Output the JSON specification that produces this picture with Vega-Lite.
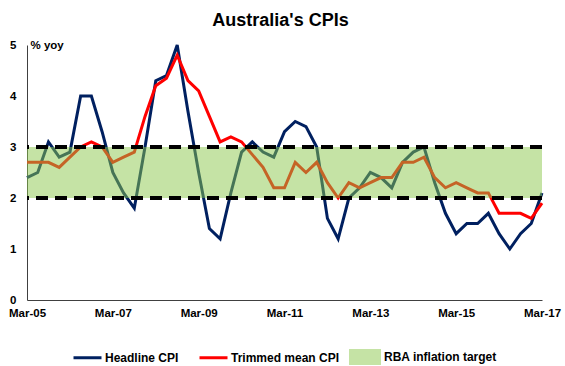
{
  "$schema": "https://vega.github.io/schema/vega-lite/v6.json",
  "width": 515,
  "height": 255,
  "autosize": {"type": "none"},
  "padding": {"left": 27, "top": 45, "right": 23, "bottom": 66},
  "background": "white",
  "title": {
    "text": "Australia's CPIs",
    "fontSize": 18,
    "fontWeight": "bold",
    "font": "Liberation Sans",
    "color": "black",
    "anchor": "middle",
    "frame": "group",
    "baseline": "alphabetic",
    "offset": -5,
    "dx": -4
  },
  "datasets": {
    "cpi": [
      {"quarter": "Mar-05", "headline": 2.4, "trimmed": 2.7},
      {"quarter": "Jun-05", "headline": 2.5, "trimmed": 2.7},
      {"quarter": "Sep-05", "headline": 3.1, "trimmed": 2.7},
      {"quarter": "Dec-05", "headline": 2.8, "trimmed": 2.6},
      {"quarter": "Mar-06", "headline": 2.9, "trimmed": 2.8},
      {"quarter": "Jun-06", "headline": 4.0, "trimmed": 3.0},
      {"quarter": "Sep-06", "headline": 4.0, "trimmed": 3.1},
      {"quarter": "Dec-06", "headline": 3.3, "trimmed": 3.0},
      {"quarter": "Mar-07", "headline": 2.5, "trimmed": 2.7},
      {"quarter": "Jun-07", "headline": 2.1, "trimmed": 2.8},
      {"quarter": "Sep-07", "headline": 1.8, "trimmed": 2.9},
      {"quarter": "Dec-07", "headline": 3.0, "trimmed": 3.6},
      {"quarter": "Mar-08", "headline": 4.3, "trimmed": 4.2},
      {"quarter": "Jun-08", "headline": 4.4, "trimmed": 4.35},
      {"quarter": "Sep-08", "headline": 5.0, "trimmed": 4.8},
      {"quarter": "Dec-08", "headline": 3.7, "trimmed": 4.3},
      {"quarter": "Mar-09", "headline": 2.5, "trimmed": 4.1},
      {"quarter": "Jun-09", "headline": 1.4, "trimmed": 3.6},
      {"quarter": "Sep-09", "headline": 1.2, "trimmed": 3.1},
      {"quarter": "Dec-09", "headline": 2.1, "trimmed": 3.2},
      {"quarter": "Mar-10", "headline": 2.9, "trimmed": 3.1},
      {"quarter": "Jun-10", "headline": 3.1, "trimmed": 2.85},
      {"quarter": "Sep-10", "headline": 2.9, "trimmed": 2.6},
      {"quarter": "Dec-10", "headline": 2.8, "trimmed": 2.2},
      {"quarter": "Mar-11", "headline": 3.3, "trimmed": 2.2},
      {"quarter": "Jun-11", "headline": 3.5, "trimmed": 2.7},
      {"quarter": "Sep-11", "headline": 3.4, "trimmed": 2.5},
      {"quarter": "Dec-11", "headline": 3.0, "trimmed": 2.7},
      {"quarter": "Mar-12", "headline": 1.6, "trimmed": 2.3},
      {"quarter": "Jun-12", "headline": 1.2, "trimmed": 2.0},
      {"quarter": "Sep-12", "headline": 2.0, "trimmed": 2.3},
      {"quarter": "Dec-12", "headline": 2.2, "trimmed": 2.2},
      {"quarter": "Mar-13", "headline": 2.5, "trimmed": 2.3},
      {"quarter": "Jun-13", "headline": 2.4, "trimmed": 2.4},
      {"quarter": "Sep-13", "headline": 2.2, "trimmed": 2.4},
      {"quarter": "Dec-13", "headline": 2.7, "trimmed": 2.7},
      {"quarter": "Mar-14", "headline": 2.9, "trimmed": 2.7},
      {"quarter": "Jun-14", "headline": 3.0, "trimmed": 2.8},
      {"quarter": "Sep-14", "headline": 2.3, "trimmed": 2.4},
      {"quarter": "Dec-14", "headline": 1.7, "trimmed": 2.2},
      {"quarter": "Mar-15", "headline": 1.3, "trimmed": 2.3},
      {"quarter": "Jun-15", "headline": 1.5, "trimmed": 2.2},
      {"quarter": "Sep-15", "headline": 1.5, "trimmed": 2.1},
      {"quarter": "Dec-15", "headline": 1.7, "trimmed": 2.1},
      {"quarter": "Mar-16", "headline": 1.3, "trimmed": 1.7},
      {"quarter": "Jun-16", "headline": 1.0, "trimmed": 1.7},
      {"quarter": "Sep-16", "headline": 1.3, "trimmed": 1.7},
      {"quarter": "Dec-16", "headline": 1.5, "trimmed": 1.6},
      {"quarter": "Mar-17", "headline": 2.1, "trimmed": 1.9}
    ]
  },
  "data": {"name": "cpi"},
  "layer": [
    {
      "mark": {"type": "line", "strokeWidth": 3, "strokeJoin": "miter"},
      "encoding": {
        "x": {
          "field": "quarter",
          "type": "ordinal",
          "sort": null,
          "title": null,
          "scale": {"type": "point", "padding": 0},
          "axis": {
            "values": ["Mar-05", "Mar-07", "Mar-09", "Mar-11", "Mar-13", "Mar-15", "Mar-17"],
            "labelAngle": 0,
            "labelFlush": false,
            "labelOverlap": false,
            "ticks": false,
            "tickSize": 0,
            "labelPadding": 7,
            "domainColor": "#404040",
            "domainWidth": 1,
            "grid": false
          }
        },
        "y": {
          "field": "headline",
          "type": "quantitative",
          "title": "% yoy",
          "scale": {"domain": [0, 5], "nice": false, "zero": true}
        },
        "stroke": {
          "datum": "Headline CPI",
          "type": "nominal",
          "scale": {"domain": ["Headline CPI", "Trimmed mean CPI"], "range": ["#002060", "#ff0000"]},
          "legend": {
            "orient": "none",
            "legendX": 45,
            "legendY": 297,
            "direction": "horizontal",
            "title": null,
            "symbolType": "stroke",
            "symbolSize": 784,
            "symbolStrokeWidth": 3,
            "labelOffset": 2,
            "columnPadding": 14,
            "padding": 0
          }
        }
      }
    },
    {
      "mark": {"type": "line", "strokeWidth": 3, "strokeJoin": "miter"},
      "encoding": {
        "x": {"field": "quarter", "type": "ordinal", "sort": null, "title": null},
        "y": {"field": "trimmed", "type": "quantitative", "title": "% yoy"},
        "stroke": {"datum": "Trimmed mean CPI", "type": "nominal"}
      }
    },
    {
      "mark": {"type": "area", "opacity": 0.5},
      "encoding": {
        "x": {"field": "quarter", "type": "ordinal", "sort": null, "title": null},
        "y": {"datum": 2, "type": "quantitative", "title": "% yoy"},
        "y2": {"datum": 3},
        "fill": {
          "datum": "RBA inflation target",
          "type": "nominal",
          "scale": {"domain": ["RBA inflation target"], "range": ["#8bc84b"]},
          "legend": {
            "orient": "none",
            "legendX": 322,
            "legendY": 296,
            "direction": "horizontal",
            "title": null,
            "symbolType": "M-1,-0.5H1V0.5H-1Z",
            "symbolSize": 1024,
            "symbolOpacity": 0.5,
            "symbolStrokeWidth": 0,
            "labelOffset": 3,
            "padding": 0
          }
        }
      }
    },
    {
      "mark": {"type": "rule", "color": "black", "strokeWidth": 2.5, "strokeDash": [12, 7]},
      "encoding": {
        "y": {"datum": 2, "type": "quantitative", "title": "% yoy"}
      }
    },
    {
      "mark": {"type": "rule", "color": "black", "strokeWidth": 2.5, "strokeDash": [12, 7]},
      "encoding": {
        "y": {"datum": 3, "type": "quantitative", "title": "% yoy"}
      }
    }
  ],
  "config": {
    "font": "Liberation Sans",
    "view": {"stroke": null},
    "axis": {
      "labelFont": "Liberation Sans",
      "labelFontWeight": "bold",
      "labelFontSize": 11.5,
      "labelColor": "black",
      "titleFont": "Liberation Sans"
    },
    "axisY": {
      "values": [0, 1, 2, 3, 4, 5],
      "grid": false,
      "ticks": false,
      "tickSize": 0,
      "labelPadding": 11,
      "domainColor": "#404040",
      "domainWidth": 1,
      "titleAngle": 0,
      "titleAlign": "left",
      "titleBaseline": "middle",
      "titleX": 3,
      "titleY": 0,
      "titleFontSize": 11.5,
      "titleFontWeight": "bold",
      "titleColor": "black"
    },
    "legend": {
      "labelFont": "Liberation Sans",
      "labelFontWeight": "bold",
      "labelFontSize": 12,
      "labelColor": "black"
    }
  }
}
